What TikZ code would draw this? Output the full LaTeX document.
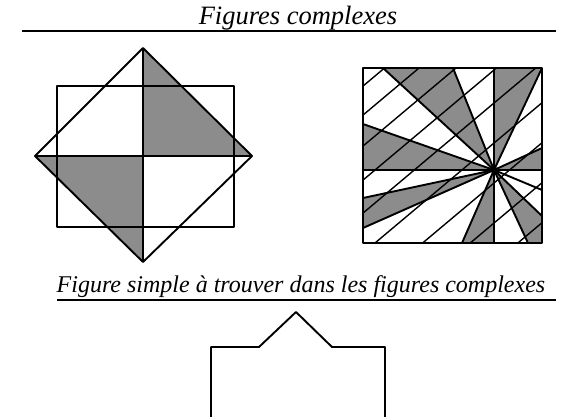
\documentclass[tikz,border=0pt]{standalone}
\usepackage{fontspec}
\setmainfont{Liberation Serif}

\newcommand*{\sqL}{363}
\newcommand*{\sqR}{542}
\newcommand*{\sqT}{68}
\newcommand*{\sqB}{243}

\begin{document}
\begin{tikzpicture}
[
	x=1pt, y=-1pt,
	heading/.style={font=\fontsize{24}{28}\selectfont\itshape,inner sep=0pt,anchor=base},
	rule/.style={line width=2.4pt},
	outline/.style={line width=1.9pt,line join=round},
	ray/.style={line width=1.9pt},
	hatch/.style={line width=1.4pt},
	shade/.style={fill=black!45}
]

	\useasboundingbox (0,0) rectangle (576,416);

	% headings
	\node[heading,font=\fontsize{26.5}{30}\selectfont\itshape] (complexes) at (298,24) {Figures complexes};
	\draw[rule] (22,31) -- (556,31);
	\node[heading] (simple) at (301,292) {Figure simple à trouver dans les figures complexes};
	\draw[rule] (57,300) -- (556,300);

	% square and diamond
	\fill[shade] (143,48) -- (143,156) -- (252,156) -- cycle;
	\fill[shade] (35,156) -- (143,156) -- (143,262) -- cycle;
	\draw[outline] (57,86) rectangle (234,227);
	\draw[outline] (143,48) -- (252,156) -- (143,262) -- (35,156) -- cycle;
	\draw[outline] (143,48) -- (143,262);
	\draw[outline] (35,156) -- (252,156);

	% star in the square
	\coordinate (hub) at (494,170);
	\foreach \ax/\ay/\bx/\by in {383/\sqT/453/\sqT, 494/\sqT/\sqR/\sqT, \sqR/148/\sqR/170,
		494/\sqB/462/\sqB, \sqL/228/\sqL/198, \sqL/170/\sqL/124} {
		\fill[shade] (hub) -- (\ax,\ay) -- (\bx,\by) -- cycle;
	}
	\fill[shade] (hub) -- (\sqR,216) -- (\sqR,\sqB) -- (528,\sqB) -- cycle;

	% hatching
	\begin{scope}
		\clip (\sqL,\sqT) rectangle (\sqR,\sqB);
		\foreach \h in {391,420,451,485,518,558,598,638,678} {
			\draw[hatch] (340,{\h-0.84*340}) -- (560,{\h-0.84*560});
		}
	\end{scope}

	% rays
	\foreach \px/\py in {383/\sqT, 453/\sqT, \sqR/\sqT, \sqR/148, \sqR/190, \sqR/216,
		528/\sqB, 462/\sqB, \sqL/228, \sqL/198, \sqL/124} {
		\draw[ray] (hub) -- (\px,\py);
	}
	\draw[ray] (494,\sqT) -- (494,\sqB);
	\draw[ray] (\sqL,170) -- (\sqR,170);
	\fill (hub) circle (3.5pt);
	\draw[outline,line width=2.4pt] (\sqL,\sqT) rectangle (\sqR,\sqB);

	% simple figure
	\draw[outline] (211,420) -- (211,347) -- (259,347) -- (296,312) -- (332,347) -- (385,347) -- (385,420);

\end{tikzpicture}
\end{document}
